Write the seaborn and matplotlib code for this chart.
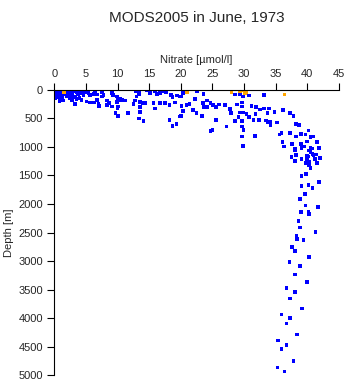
import matplotlib
matplotlib.use("Agg")
import matplotlib.pyplot as plt
import seaborn as sns
import pandas as pd

title = "MODS2005 in June, 1973"
x_label = "Nitrate [\u00b5mol/l]"
y_label = "Depth [m]"
x_ticks = [0, 5, 10, 15, 20, 25, 30, 35, 40, 45]
y_ticks = [0, 500, 1000, 1500, 2000, 2500, 3000, 3500, 4000, 4500, 5000]

# good-quality samples (blue)
nitrate_good = [
    # deep
    38.1, 40.3, 37.2, 38.8, 38.0, 39.9, 36.7, 38.1, 37.3, 39.2, 35.9, 37.3, 36.7, 38.4,
    35.4, 36.7, 35.9, 37.8, 35.3, 36.4,
    # 1000-2800 m
    38.1, 37.5, 38.2, 39.9, 40.5, 40.3, 41.0, 41.4, 42.0, 41.2, 39.1, 38.1, 39.8, 40.3,
    41.5, 40.3, 40.5, 39.8, 39.1, 40.2, 39.1, 40.8, 41.8, 39.6, 38.8, 39.7, 41.7, 39.0,
    40.2, 40.3, 38.6, 38.8, 41.3, 38.3, 38.4, 39.4, 37.6,
    # 20-42 umol, upper 1000 m
    20.3, 22.6, 23.6, 28.6, 29.4, 29.8, 30.8, 33.2, 20.1, 22.2, 24.1, 24.7, 25.1, 23.5,
    21.4, 20.9, 20.1, 26.0, 27.0, 28.9, 29.7, 29.7, 31.2, 31.9, 32.5, 33.2, 33.9, 36.2,
    24.1, 25.6, 20.4, 21.9, 22.5, 27.8, 27.9, 29.4, 29.8, 30.4, 29.1, 30.8, 31.8, 33.7,
    34.8, 37.3, 37.8, 20.0, 23.4, 25.6, 28.6, 29.7, 31.5, 32.4, 33.5, 34.1, 33.7, 34.2,
    35.2, 35.6, 35.9, 38.2, 38.7, 27.2, 29.7, 25.0, 24.7, 29.9, 31.7, 29.7, 29.8, 37.3,
    38.2, 39.0, 39.7, 40.2, 40.5, 40.9, 39.9, 41.5, 36.1, 36.3, 37.6, 38.1, 39.0, 39.1,
    39.5, 40.5, 40.8, 41.8, 39.9, 40.2, 40.8, 40.5, 23.6,
    # 0-20 umol
    2.5, 3.0, 3.5, 4.1, 4.5, 4.9, 5.4, 5.6, 6.2, 6.4, 6.7, 7.5, 7.8, 7.5, 9.1, 9.3, 9.9,
    10.4, 10.7, 11.2, 10.1, 9.9, 8.3, 8.7, 8.3, 7.0, 7.1, 6.3, 5.6, 5.1, 4.3, 4.0, 3.5,
    3.3, 2.8, 2.5, 2.0, 1.4, 1.2, 0.8, 0.6, 0.4, 0.3, 0.9, 1.7, 2.2, 3.0, 9.1, 10.0, 9.7,
    10.1, 11.6, 12.5, 12.8, 13.0, 12.9, 13.4, 13.4, 14.6, 15.1, 15.9, 16.2, 16.7, 17.2,
    17.7, 18.4, 18.7, 19.4, 19.9, 13.6, 14.0, 14.4, 15.7, 15.9, 16.7, 17.5, 18.2, 19.1,
    13.6, 13.6, 13.4, 14.1, 18.2, 18.7, 19.3, 19.9, 6.7, 10.1,
    # dense surface cluster
    0.1, 0.3, 0.5, 0.2, 0.7, 1.0, 1.2, 0.9, 1.5, 1.8, 2.0, 2.3, 2.6, 2.9, 3.2, 3.6, 4.0,
    4.3, 0.4, 0.6, 1.1, 1.6, 0.2, 3.8, 4.6, 5.0, 1.3, 0.8, 2.4, 3.3,
]
depth_good = [
    2819, 2934, 3022, 3082, 3233, 3373, 3473, 3543, 3654, 3829, 3934, 4004, 4092, 4285,
    4390, 4467, 4538, 4748, 4864, 4934,
    1052, 1180, 1140, 1158, 1100, 1065, 1145, 1135, 1198, 1216, 1216, 1251, 1286, 1258,
    1286, 1321, 1373, 1473, 1508, 1666, 1684, 1724, 1619, 1824, 1917, 2029, 2047, 2145,
    2140, 2180, 2303, 2415, 2491, 2566, 2619, 2626, 2759,
    58, 23, 70, 82, 82, 118, 100, 93, 118, 163, 188, 233, 263, 233,
    251, 268, 281, 258, 268, 258, 223, 293, 286, 303, 346, 328, 328, 356,
    303, 303, 374, 351, 409, 339, 409, 398, 398, 421, 479, 479, 421, 409,
    391, 409, 456, 456, 456, 526, 549, 549, 526, 526, 538, 561, 574, 614,
    574, 784, 760, 602, 619, 644, 644, 702, 724, 702, 807, 819, 982, 760,
    819, 772, 784, 714, 830, 819, 907, 917, 912, 995, 952, 1040, 952, 1023,
    995, 1023, 1030, 1017, 1228, 1170, 1123, 1082, 298,
    0, 12, 30, 58, 12, 35, 58, 88, 70, 47, 82, 40, 88, 118, 58, 88, 118,
    163, 175, 188, 175, 216, 188, 233, 263, 246, 281, 223, 223, 205, 175, 146, 163,
    246, 175, 146, 118, 188, 163, 118, 88, 58, 30, 47, 58, 88, 118, 293, 321, 409,
    456, 409, 246, 188, 118, 30, 12, 70, 0, 58, 30, 70, 58, 30,
    47, 88, 128, 100, 118, 210, 233, 233, 233, 328, 233, 233, 263, 223,
    303, 386, 503, 549, 526, 631, 596, 468, 175, 293,
    0, 10, 20, 40, 5, 15, 30, 70, 10, 25, 50, 15, 35, 60, 20, 45, 10,
    30, 100, 130, 95, 80, 150, 80, 95, 15, 140, 190, 100, 130,
]

# flagged samples (orange)
nitrate_flag = [1.5, 21.0, 28.0, 29.4, 29.9, 30.4, 30.2, 36.4]
depth_flag = [40, 47, 40, 18, 0, 35, 58, 82]

df = pd.DataFrame({
    "nitrate": nitrate_good + nitrate_flag,
    "depth": depth_good + depth_flag,
    "flag": ["good"] * len(nitrate_good) + ["flag"] * len(nitrate_flag),
})

sns.set_style("ticks")
plt.rcParams["font.family"] = ["Liberation Sans", "DejaVu Sans"]

fig = plt.figure(figsize=(3.48, 3.84), dpi=100)
ax = fig.add_axes([0.156, 0.023, 0.818, 0.743])

sns.scatterplot(data=df, x="nitrate", y="depth", hue="flag",
                palette={"good": "#0000ff", "flag": "#ffa500"},
                marker="s", s=7, linewidth=0, legend=False, ax=ax)

ax.set_xlim(0, 45)
ax.set_ylim(5000, 0)
ax.set_xticks(x_ticks)
ax.set_yticks(y_ticks)
ax.xaxis.tick_top()
ax.xaxis.set_label_position("top")
ax.set_xlabel(x_label, fontsize=8, labelpad=4)
ax.set_ylabel(y_label, fontsize=8, labelpad=3)
ax.tick_params(axis="both", labelsize=8, length=5, width=0.8, color="black",
               direction="out", pad=3)
for side in ["right", "bottom"]:
    ax.spines[side].set_visible(False)
for side in ["left", "top"]:
    ax.spines[side].set_color("black")
    ax.spines[side].set_linewidth(0.8)

fig.text(0.565, 0.972, title, ha="center", va="top", fontsize=11)

fig.savefig("out.png", dpi=100)
